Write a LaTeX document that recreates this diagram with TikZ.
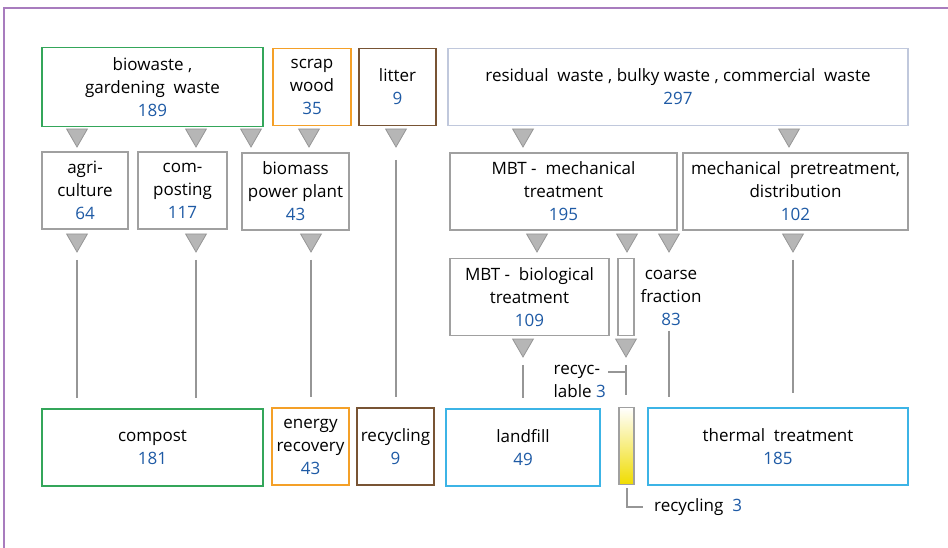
\documentclass[tikz,border=0pt]{standalone}
\usepackage{fontspec}
\setmainfont{Open Sans}
\usetikzlibrary{shapes.geometric}

\definecolor{framepurple}{RGB}{168,124,190}
\definecolor{biogreen}{RGB}{52,166,90}
\definecolor{woodorange}{RGB}{244,160,40}
\definecolor{litterbrown}{RGB}{120,84,52}
\definecolor{resgray}{RGB}{192,200,220}
\definecolor{boxgray}{RGB}{160,160,160}
\definecolor{outcyan}{RGB}{60,180,230}
\definecolor{numblue}{RGB}{30,90,165}
\definecolor{trifill}{RGB}{182,182,182}
\definecolor{triline}{RGB}{150,150,150}
\definecolor{barfill}{RGB}{240,220,0}

\newcommand\amount[1]{{\color{numblue}#1}}

\begin{document}
\begin{tikzpicture}[x=1pt,y=-1pt,
  box/.style={draw=#1, line width=1.4pt, fill=white, inner sep=0pt, align=center,
              font=\fontsize{17}{23}\selectfont},
  box/.default=boxgray,
  label/.style={inner sep=0pt, align=center, font=\fontsize{17}{23}\selectfont},
  tri/.style={regular polygon, regular polygon sides=3, shape border rotate=180,
              fill=trifill, draw=triline, line width=0.8pt, inner sep=0pt, minimum size=24pt},
  flow/.style={draw=triline, line width=2pt, shorten <=7pt, shorten >=10pt},
  tick/.style={draw=triline, line width=2pt}]

  \useasboundingbox (0,0) rectangle (948,548);
  \draw[framepurple, line width=2pt] (948,8) -- (4,8) -- (4,548);

% sources
  \node[box=biogreen, minimum width=221pt, minimum height=79pt] (bio) at (152.5,87)
       {biowaste ,\\gardening~ waste\\\amount{189}};
  \node[box=woodorange, minimum width=78pt, minimum height=77pt] (wood) at (312,87)
       {scrap\\wood\\\amount{35}};
  \node[box=litterbrown, minimum width=77pt, minimum height=77pt] (litter) at (397.5,87)
       {litter\\\amount{9}};
  \node[box=resgray, minimum width=460pt, minimum height=77pt] (resid) at (678,87)
       {residual~ waste , bulky waste , commercial~ waste\\\amount{297}};

% treatment
  \node[box, minimum width=86pt, minimum height=77pt] (agri) at (85,190.5)
       {agri-\\culture\\\amount{64}};
  \node[box, minimum width=89pt, minimum height=77pt] (compo) at (182.5,190.5)
       {com-\\posting\\\amount{117}};
  \node[box, minimum width=107pt, minimum height=77pt] (biomass) at (295.5,191.5)
       {biomass\\power plant\\\amount{43}};
  \node[box, minimum width=227pt, minimum height=77pt] (mbtmech) at (563.5,191.5)
       {MBT -~ mechanical\\treatment\\\amount{195}};
  \node[box, minimum width=225pt, minimum height=77pt] (mechpre) at (795.5,191.5)
       {mechanical~ pretreatment,\\distribution\\\amount{102}};
  \node[box, minimum width=159pt, minimum height=77pt] (mbtbio) at (529.5,297)
       {MBT -~ biological\\treatment\\\amount{109}};
  \node[box, minimum width=16pt, minimum height=77pt] (coarsebar) at (626,297) {};
  \node[label] (coarse) at (671,298) {coarse\\fraction\\\amount{83}};

% outputs
  \node[box=biogreen, minimum width=221pt, minimum height=77pt] (compost) at (152.5,447.5)
       {compost\\\amount{181}};
  \node[box=woodorange, minimum width=77pt, minimum height=77pt] (energy) at (310.5,446.5)
       {energy\\recovery\\\amount{43}};
  \node[box=litterbrown, minimum width=77pt, minimum height=77pt] (recyc) at (395.5,446.5)
       {recycling\\\amount{9}};
  \node[box=outcyan, minimum width=154pt, minimum height=77pt] (landfill) at (523,447.5)
       {landfill\\\amount{49}};
  \node[box, top color=white, bottom color=barfill, minimum width=15pt, minimum height=77pt]
       (ybar) at (626.5,446) {};
  \node[box=outcyan, minimum width=260pt, minimum height=77pt] (thermal) at (778,446.5)
       {thermal~ treatment\\\amount{185}};

% side labels
  \node[label, align=left, anchor=east] (recl) at (606,381) {recyc-\\lable \amount{3}};
  \node[label, anchor=west] (rec3) at (654,507) {recycling~ \amount{3}};

% triangles
  \foreach \x/\n in {77/a,196/b,251/c,309/d,396/e,523/f,789/g}
    \node[tri] (t1\n) at (\x,135) {};
  \foreach \x/\n in {77/a,196/b,311/c,537/d,627/e,669/f,793/g}
    \node[tri] (t2\n) at (\x,240) {};
  \foreach \x/\n in {523/a,626/b}
    \node[tri] (t3\n) at (\x,345) {};

% lines down to the outputs
  \draw[flow] (t2a.corner 1) -- (compost.north -| t2a.corner 1);
  \draw[flow] (t2b.corner 1) -- (compost.north -| t2b.corner 1);
  \draw[flow] (t2c.corner 1) -- (energy.north -| t2c.corner 1);
  \draw[flow, shorten <=12pt] (t1e.corner 1) -- (recyc.north -| t1e.corner 1);
  \draw[flow] (t3a.corner 1) -- (landfill.north -| t3a.corner 1);
  \draw[flow, shorten >=12pt] (t3b.corner 1) -- (ybar.north -| t3b.corner 1);
  \draw[flow, shorten <=5pt] (coarse.south -| t2f.corner 1) -- (thermal.north -| t2f.corner 1);
  \draw[flow, shorten >=14pt] (t2g.corner 1) -- (thermal.north -| t2g.corner 1);

% recyclable branch
  \coordinate (jr) at (626,372);
  \draw[tick, shorten <=2pt] (recl.east |- jr) -- (jr);
  \draw[tick, shorten <=3pt, shorten >=11pt] (ybar.south) |- (rec3.west);

\end{tikzpicture}
\end{document}
